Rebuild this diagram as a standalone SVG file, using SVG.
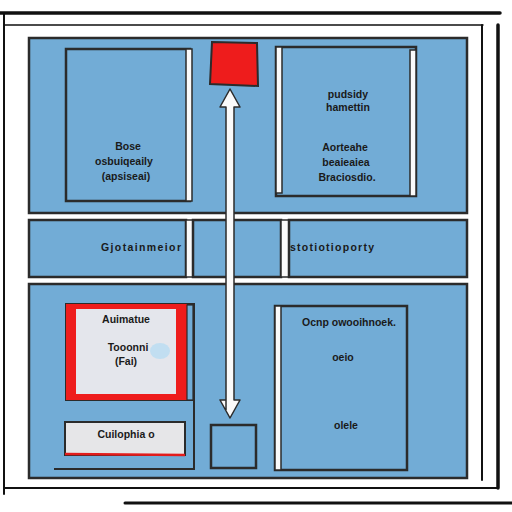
<svg xmlns="http://www.w3.org/2000/svg" width="512" height="512" viewBox="0 0 512 512">
<style>
.pan{fill:#72acd6;stroke:#2b2b2b;stroke-width:2.5}
.box{fill:#72acd6;stroke:#2b2b2b;stroke-width:2.5}
.strip{fill:#fafafa;stroke:#2b2b2b;stroke-width:1.5}
.frame{fill:none;stroke:#111;stroke-linecap:round}
.t{font-family:"Liberation Sans",Arial,sans-serif;font-size:10.5px;font-weight:bold;fill:#1a1a1a;text-anchor:middle}
</style>
<rect width="512" height="512" fill="#fff"/>
<g id="frame">
<path class="frame" d="M0 13 L500 13" stroke-width="3.5"/>
<path class="frame" d="M4 14 L4 494" stroke-width="2"/>
<path class="frame" d="M5 25 L483 25" stroke-width="1.5"/>
<path class="frame" d="M482 25 L482 480" stroke-width="2"/>
<path class="frame" d="M498 25 L498 488" stroke-width="3.5"/>
<path class="frame" d="M5 488 L498 488" stroke-width="2"/>
<path class="frame" d="M125 503 L512 503" stroke-width="3"/>
</g>
<g id="top-panel">
<rect class="pan" x="29" y="38" width="438" height="175"/>
</g>
<g id="middle-band">
<rect class="pan" x="29" y="220" width="157" height="57"/>
<rect class="strip" x="186" y="220" width="7" height="57"/>
<rect class="pan" x="193" y="220" width="88" height="57"/>
<rect class="strip" x="281" y="220" width="8" height="57"/>
<rect class="pan" x="289" y="220" width="178" height="57"/>
<text class="t" x="141" y="251" textLength="80" lengthAdjust="spacing">Gjotainmeior</text>
<text class="t" x="332" y="251" textLength="84" lengthAdjust="spacing">stotiotioporty</text>
</g>
<g id="bottom-panel">
<rect class="pan" x="29" y="284" width="438" height="194"/>
</g>
<g id="box-top-left">
<rect class="box" x="66" y="49" width="124" height="152"/>
<rect class="strip" x="186" y="49" width="6" height="152"/>
<text class="t" x="128" y="150">Bose</text>
<text class="t" x="124" y="165">osbuiqeaily</text>
<text class="t" x="126" y="180">(apsiseai)</text>
</g>
<g id="red-square">
<path d="M212 42 L257 43 L258 86 L210 84 Z" fill="#ee1c1c" stroke="#2b2b2b" stroke-width="2"/>
</g>
<g id="box-top-right">
<rect class="box" x="276" y="47" width="140" height="149"/>
<rect class="strip" x="276" y="47" width="6" height="146"/>
<rect class="strip" x="410" y="50" width="6" height="146"/>
<text class="t" x="348" y="98">pudsidy</text>
<text class="t" x="348" y="111">hamettin</text>
<text class="t" x="345" y="151">Aorteahe</text>
<text class="t" x="346" y="166">beaieaiea</text>
<text class="t" x="347" y="181">Braciosdio.</text>
</g>
<g id="box-red">
<rect x="66" y="304" width="128" height="96" fill="#e8e8ea" stroke="#2b2b2b" stroke-width="2"/>
<rect x="66" y="304" width="121" height="96" fill="#ee1c1c"/>
<rect x="76" y="309" width="100" height="85" fill="#e4e6ec"/>
<rect x="187" y="305" width="6" height="95" fill="#72acd6" stroke="#2b2b2b" stroke-width="1.2"/>
<ellipse cx="160" cy="351" rx="10" ry="8" fill="#b8dcf2" opacity="0.8"/>
<text class="t" x="126" y="323">Auimatue</text>
<text class="t" x="128" y="351" fill="#10205a">Tooonni</text>
<text class="t" x="126" y="365">(Fai)</text>
</g>
<g id="box-small-label">
<rect x="65" y="422" width="120" height="33" fill="#e6e6e8" stroke="#2b2b2b" stroke-width="2"/>
<path d="M65 454 L185 455" stroke="#e21c1c" stroke-width="2.5"/>
<text class="t" x="126" y="438">Cuilophia o</text>
</g>
<g id="small-square">
<rect x="211" y="425" width="45" height="43" fill="#72acd6" stroke="#2b2b2b" stroke-width="2.5"/>
</g>
<g id="box-bottom-right">
<rect class="box" x="275" y="306" width="132" height="164"/>
<rect class="strip" x="275" y="306" width="6" height="164"/>
<text class="t" x="349" y="326">Ocnp owooihnoek.</text>
<text class="t" x="343" y="361">oeio</text>
<text class="t" x="346" y="429">olele</text>
</g>
<g id="connectors">
<path d="M194 305 L194 469 L54 469" fill="none" stroke="#2b2b2b" stroke-width="2"/>
<path d="M226 410 L226 107 L220 107 L230 89 L240 107 L234 107 L234 400 L240 400 L230 418 L220 400 L226 400" fill="#fafafa" stroke="#2b2b2b" stroke-width="1.5" stroke-linejoin="round"/>
</g>
</svg>
